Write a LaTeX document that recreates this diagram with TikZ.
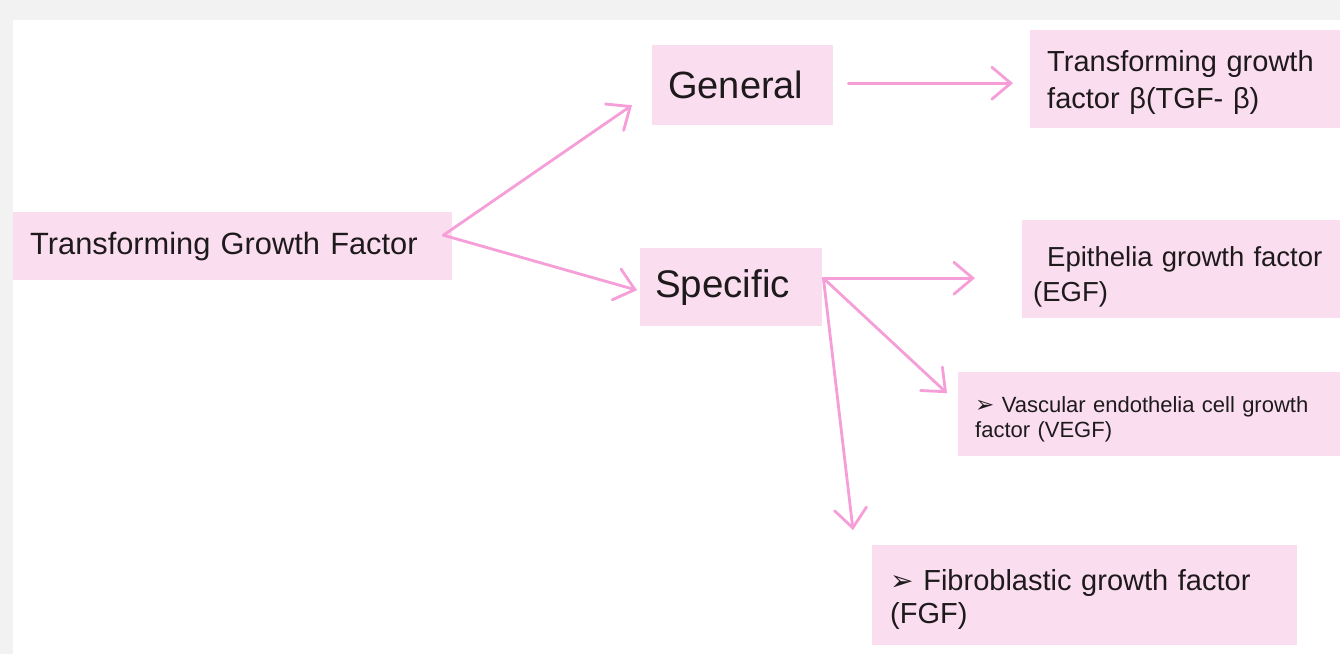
\documentclass[tikz,border=0pt]{standalone}
\usepackage{fontspec}
\setmainfont{Liberation Sans}
\newfontfamily\symfont{DejaVu Sans}
\usetikzlibrary{arrows.meta,calc}
\definecolor{boxpink}{RGB}{250,222,240}
\definecolor{arrpink}{RGB}{245,158,216}
\definecolor{txt}{RGB}{30,26,28}
\definecolor{bggrey}{RGB}{242,242,242}
\newcommand{\bul}{{\symfont\char"27A2}}
\begin{document}
\begin{tikzpicture}[x=1pt,y=-1pt,
  box/.style={fill=boxpink, draw=none, anchor=north west, inner ysep=0pt, text=txt, align=left},
  arr/.style={draw=arrpink, line width=2.8pt, line cap=round,
    -{Straight Barb[length=19pt,width=32pt,line width=2.8pt,line cap=round]}}]
\useasboundingbox (0,0) rectangle (1340,654);
\fill[bggrey] (0,0) rectangle (1340,654);
\fill[white] (13,20) rectangle (1340,654);

\node[box, minimum height=68pt, inner xsep=17pt, text width=405pt,
  font=\fontsize{30.8}{36}\selectfont] (tgf) at (13,212) {Transforming Growth Factor};
\node[box, minimum height=80pt, inner xsep=16pt, text width=149pt,
  font=\fontsize{38}{44}\selectfont] (general) at (652,45) {General};
\node[box, minimum height=78pt, inner xsep=15pt, text width=152pt,
  font=\fontsize{38.5}{44}\selectfont] (specific) at (640,248) {Specific};
\node[box, minimum height=98pt, inner xsep=17pt, text width=290pt,
  font=\fontsize{29}{37}\selectfont] (tgfb) at (1030,30) {\rule{0pt}{28pt}Transforming growth\\factor β(TGF- β)};
\node[box, minimum height=98pt, inner xsep=11pt, text width=300pt,
  font=\fontsize{27.5}{35}\selectfont] (egf) at (1022,220) {\rule{0pt}{36pt}\hspace*{14pt}Epithelia growth factor\\(EGF)};
\node[box, minimum height=84pt, inner xsep=17pt, text width=360pt,
  font=\fontsize{22}{25}\selectfont] (vegf) at (958,372) {\rule{0pt}{26pt}{\fontsize{23}{25}\selectfont\bul}\ Vascular endothelia cell growth\\factor (VEGF)};
\node[box, minimum height=100pt, inner xsep=18pt, text width=389pt,
  font=\fontsize{29}{33}\selectfont] (fgf) at (872,545) {\rule{0pt}{30pt}{\fontsize{28}{33}\selectfont\bul}\ Fibroblastic growth factor\\(FGF)};

\draw[arr] ($(tgf.east)+(-9,-11)$) -- ($(general.west)+(-20,20)$);
\draw[arr] ($(tgf.east)+(-9,-11)$) -- ($(specific.west)+(-3,3)$);
\draw[arr] ($(general.east)+(15,-2)$) -- ($(tgfb.west)+(-17,4)$);
\draw[arr] ($(specific.east)+(1,-9)$) -- ($(egf.west)+(-47,9)$);
\draw[arr] ($(specific.east)+(1,-9)$) -- ($(vegf.west)+(-11,-21)$);
\draw[arr] ($(specific.east)+(1,-9)$) -- ($(fgf.north west)+(-19,-15)$);
\end{tikzpicture}
\end{document}
